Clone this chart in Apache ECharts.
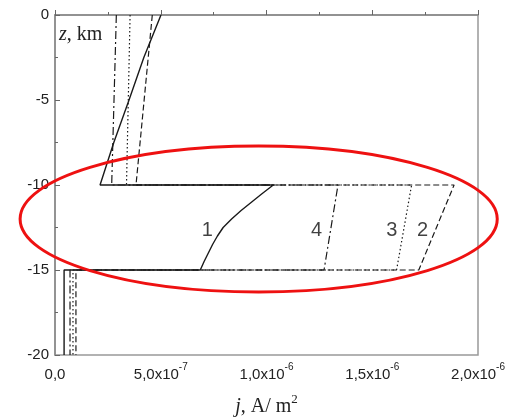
<!DOCTYPE html>
<html>
<head>
<meta charset="utf-8">
<script src="https://cdn.jsdelivr.net/npm/echarts@6/dist/echarts.min.js"></script>
<style>
html,body{margin:0;padding:0;background:#fff;}
#main{width:529px;height:418px;}
</style>
</head>
<body>
<div id="main"></div>
<script>
// Curve 1 (solid)
var j1 = [5.01e-7, 4.2e-7, 3.5e-7, 2.78e-7, 2.13e-7,
          1.032e-6, 9.8e-7, 9.3e-7, 8.8e-7, 8.35e-7, 7.95e-7, 7.68e-7, 7.45e-7, 7.25e-7, 7.05e-7, 6.87e-7,
          4.3e-8, 4.3e-8];
var z1 = [0, -2.5, -5, -7.5, -10,
          -10, -10.5, -11, -11.5, -12, -12.5, -13, -13.5, -14, -14.5, -15,
          -15, -20];
// Curve 2 (dashed)
var j2 = [4.6e-7, 3.83e-7, 1.887e-6, 1.72e-6, 9.9e-8, 9.9e-8];
var z2 = [0, -10, -10, -15, -15, -20];
// Curve 3 (dotted)
var j3 = [3.55e-7, 3.38e-7, 1.686e-6, 1.615e-6, 8.5e-8, 8.5e-8];
var z3 = [0, -10, -10, -15, -15, -20];
// Curve 4 (dash-dot)
var j4 = [2.9e-7, 2.68e-7, 1.338e-6, 1.272e-6, 7.1e-8, 7.1e-8];
var z4 = [0, -10, -10, -15, -15, -20];

// Curve number labels
var labelNames = ['1', '2', '3', '4'];
var labelJ = [7.2e-7, 1.738e-6, 1.592e-6, 1.237e-6];
var labelZ = [-12.65, -12.65, -12.65, -12.65];

// Tick labels
var xTickMant = ['0,0', '5,0x10', '1,0x10', '1,5x10', '2,0x10'];
var xTickExp = ['', '-7', '-6', '-6', '-6'];

// Highlight ellipse (data coords): center j, center z, radius j, radius z
var ellipseCenter = [9.63e-7, -12.0];
var ellipseRadius = [1.128e-6, 4.29];

function zip(a, b) { return a.map(function (v, i) { return [v, b[i]]; }); }

var lineColor = '#1a1a1a';
var chart = echarts.init(document.getElementById('main'), null, { renderer: 'canvas' });

var option = {
  animation: false,
  backgroundColor: '#fff',
  grid: { left: 55, top: 15, right: 51, bottom: 63, show: true, borderColor: '#999', borderWidth: 1.5, containLabel: false, outerBoundsMode: 'none' },
  xAxis: {
    type: 'value', min: 0, max: 2e-6, interval: 5e-7,
    name: '{i|j}{n|, A/ m}{s|2}', nameLocation: 'middle', nameGap: 38,
    nameTextStyle: {
      rich: {
        i: { fontFamily: 'Liberation Serif', fontStyle: 'italic', fontSize: 20, color: '#222', lineHeight: 24, verticalAlign: 'bottom' },
        n: { fontFamily: 'Liberation Serif', fontSize: 20, color: '#222', lineHeight: 24, verticalAlign: 'bottom' },
        s: { fontFamily: 'Liberation Serif', fontSize: 13, color: '#222', lineHeight: 24, verticalAlign: 'top' }
      }
    },
    axisLine: { show: true, lineStyle: { color: '#888', width: 1.5 } },
    axisTick: { show: true, inside: true, length: 5, lineStyle: { color: '#666' } },
    minorTick: { show: true, splitNumber: 2, length: 3, lineStyle: { color: '#666' } },
    splitLine: { show: false },
    axisLabel: {
      margin: 7,
      formatter: function (v) {
        var k = Math.round(v / 5e-7);
        if (!xTickExp[k]) return '{a|' + xTickMant[k] + '}';
        return '{a|' + xTickMant[k] + '}{s|' + xTickExp[k] + '}';
      },
      rich: {
        a: { fontFamily: 'Liberation Sans', fontSize: 15, color: '#222', lineHeight: 20, verticalAlign: 'bottom' },
        s: { fontFamily: 'Liberation Sans', fontSize: 10, color: '#222', lineHeight: 20, verticalAlign: 'top' }
      }
    }
  },
  yAxis: {
    type: 'value', min: -20, max: 0, interval: 5,
    name: '{i|z}{n|, km}', nameLocation: 'end', nameGap: -30,
    nameTextStyle: {
      align: 'left', padding: [0, 0, 0, 4],
      rich: {
        i: { fontFamily: 'Liberation Serif', fontStyle: 'italic', fontSize: 20, color: '#222' },
        n: { fontFamily: 'Liberation Serif', fontSize: 20, color: '#222' }
      }
    },
    axisLine: { show: true, lineStyle: { color: '#888', width: 1.5 } },
    axisTick: { show: true, inside: true, length: 5, lineStyle: { color: '#666' } },
    minorTick: { show: true, splitNumber: 2, length: 3, lineStyle: { color: '#666' } },
    splitLine: { show: false },
    axisLabel: { margin: 6, fontFamily: 'Liberation Sans', fontSize: 15, color: '#222' }
  },
  series: [
    { type: 'line', data: zip(j2, z2), showSymbol: false, lineStyle: { color: lineColor, width: 1.2, type: [6, 3] } },
    { type: 'line', data: zip(j3, z3), showSymbol: false, lineStyle: { color: lineColor, width: 1.2, type: [1.5, 2.5] } },
    { type: 'line', data: zip(j4, z4), showSymbol: false, lineStyle: { color: lineColor, width: 1.2, type: [8, 3, 2, 3] } },
    { type: 'line', data: zip(j1, z1), showSymbol: false, lineStyle: { color: lineColor, width: 1.4, type: 'solid' } },
    {
      type: 'scatter', symbolSize: 0,
      data: labelNames.map(function (n, i) { return { name: n, value: [labelJ[i], labelZ[i]] }; }),
      label: { show: true, position: 'inside', formatter: '{b}', fontFamily: 'Liberation Sans', fontSize: 20, color: '#111' }
    }
  ]
};
chart.setOption(option);

var c = chart.convertToPixel({ gridIndex: 0 }, ellipseCenter);
var ex = chart.convertToPixel({ gridIndex: 0 }, [ellipseCenter[0] + ellipseRadius[0], ellipseCenter[1] + ellipseRadius[1]]);
chart.setOption({
  graphic: [{
    type: 'ellipse', z: 100,
    shape: { cx: c[0], cy: c[1], rx: Math.abs(ex[0] - c[0]), ry: Math.abs(ex[1] - c[1]) },
    style: { fill: null, stroke: '#ee1111', lineWidth: 3 }
  }]
});
</script>
</body>
</html>
